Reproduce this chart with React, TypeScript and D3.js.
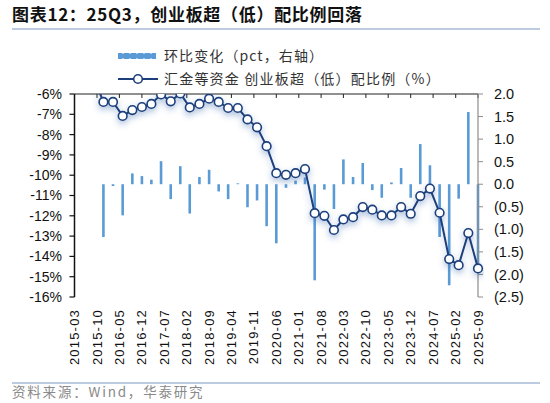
import React from 'react';
import * as d3 from 'd3';

// quarter-end dates of the ratio series (first point sits above the axis and is clipped)
const quarters = [
	'2015-09', '2015-12', '2016-03', '2016-06', '2016-09', '2016-12', '2017-03', '2017-06', '2017-09', '2017-12',
	'2018-03', '2018-06', '2018-09', '2018-12', '2019-03', '2019-06', '2019-09', '2019-12', '2020-03', '2020-06',
	'2020-09', '2020-12', '2021-03', '2021-06', '2021-09', '2021-12', '2022-03', '2022-06', '2022-09', '2022-12',
	'2023-03', '2023-06', '2023-09', '2023-12', '2024-03', '2024-06', '2024-09', '2024-12', '2025-03', '2025-06',
	'2025-09',
];

// 汇金等资金 创业板超（低）配比例 (%)
const ratio = [
	-5.22, -6.39, -6.39, -7.08, -6.79, -6.64, -6.49, -6.02, -6.36, -5.97,
	-6.66, -6.49, -6.23, -6.39, -6.69, -6.69, -7.25, -7.64, -8.57, -9.9,
	-9.98, -9.9, -9.7, -11.87, -12.0, -12.7, -12.18, -12.07, -11.57, -11.7,
	-11.98, -11.98, -11.57, -11.9, -11.03, -10.66, -11.85, -14.13, -14.43, -12.85,
	-14.59,
];

// 环比变化 (pct), from 2015-12 on
const qoqChange = [
	-1.17, -0.04, -0.69, 0.24, 0.18, 0.1, 0.51, -0.33, 0.4, -0.65,
	0.16, 0.32, -0.16, -0.33, 0.02, -0.51, -0.36, -0.93, -1.31, -0.08,
	0.08, 0.15, -2.13, -0.12, -0.55, 0.55, 0.16, 0.47, -0.13, -0.3,
	0.04, 0.36, -0.3, 0.89, 0.42, -1.17, -2.24, -0.32, 1.6, -1.75,
];

const tickLabels = [
	'2015-03', '2015-10', '2016-05', '2016-12', '2017-07', '2018-02', '2018-09', '2019-04', '2019-11', '2020-06',
	'2021-01', '2021-08', '2022-03', '2022-10', '2023-05', '2023-12', '2024-07', '2025-02', '2025-09',
];
const leftTicks = [-6, -7, -8, -9, -10, -11, -12, -13, -14, -15, -16];
const rightTicks = [2, 1.5, 1, 0.5, 0, -0.5, -1, -1.5, -2, -2.5];

const W = 550;
const H = 403;
const plot = { left: 74.5, right: 478, top: 94, bottom: 297 };

const latin = '"Liberation Sans", Arial, sans-serif';
const cjk = '"Noto Sans CJK SC", "Liberation Sans", sans-serif';

const parse = d3.timeParse('%Y-%m');
const x = d3.scaleTime().domain([parse('2015-03')!, parse('2025-09')!]).range([plot.left, plot.right]);
const yL = d3.scaleLinear().domain([-16, -6]).range([plot.bottom, plot.top]);
const yR = d3.scaleLinear().domain([-2.5, 2]).range([plot.bottom, plot.top]);

const qx = (q: string) => x(parse(q)!);
const fmtRight = (v: number) => (v < 0 ? `(${Math.abs(v).toFixed(1)})` : v.toFixed(1));

const linePath = d3
	.line<number>()
	.x((_, i) => qx(quarters[i]))
	.y((d) => yL(d))(ratio)!;

const barQuarters = quarters.slice(1);
const barW = 2.6;
const navy = '#1d3f7c';
const blue = '#5b9bd5';

export default function App() {
	return (
		<div style={{ position: 'fixed', left: 0, top: 0 }}>
			<svg width={W} height={H} viewBox={`0 0 ${W} ${H}`} style={{ display: 'block', background: '#fff' }}>
				<defs>
					<clipPath id="plotClip">
						<rect x={plot.left} y={plot.top} width={plot.right - plot.left + 6} height={plot.bottom - plot.top} />
					</clipPath>
					<filter id="glow" x="-10%" y="-10%" width="120%" height="130%">
						<feDropShadow dx="0" dy="3" stdDeviation="3" floodColor="#2f5fa8" floodOpacity="0.4" />
					</filter>
					<pattern id="dots" width="7" height="7" patternUnits="userSpaceOnUse">
						<rect width="7" height="7" fill={blue} />
						<rect x="3" y="2.5" width="2" height="2" fill="#fff" />
					</pattern>
				</defs>

				{/* title */}
				<text x={12} y={21} fontFamily={cjk} fontWeight={700} fontSize={17} fill="#111" letterSpacing={0.7}>
					图表12：25Q3，创业板超（低）配比例回落
				</text>
				<line x1={12} x2={540} y1={29} y2={29} stroke="#a7bad6" strokeWidth={1.5} />

				{/* legend */}
				<rect x={118} y={53} width={38} height={6} fill="url(#dots)" />
				<text x={164} y={61} fontFamily={cjk} fontSize={14} fill="#333" letterSpacing={1.1}>
					环比变化（pct，右轴）
				</text>
				<line x1={118} x2={158} y1={79} y2={79} stroke={navy} strokeWidth={2} />
				<circle cx={138} cy={79} r={4.3} fill="#fff" stroke={navy} strokeWidth={1.6} />
				<text x={164} y={84} fontFamily={cjk} fontSize={14} fill="#333" letterSpacing={1.2}>
					汇金等资金 创业板超（低）配比例（%）
				</text>

				{/* bars */}
				{qoqChange.map((v, i) => (
					<rect
						key={i}
						x={qx(barQuarters[i]) - barW / 2}
						y={Math.min(yR(v), yR(0))}
						width={barW}
						height={Math.abs(yR(v) - yR(0))}
						fill={blue}
					/>
				))}

				{/* top axis line with ticks */}
				<line x1={plot.left} x2={plot.right} y1={plot.top} y2={plot.top} stroke="#222" strokeWidth={1.2} />
				{tickLabels.map((t) => (
					<line key={t} x1={qx(t)} x2={qx(t)} y1={plot.top} y2={plot.top + 4} stroke="#222" strokeWidth={1} />
				))}

				{/* left axis */}
				<line x1={plot.left} x2={plot.left} y1={plot.top} y2={plot.bottom} stroke="#111" strokeWidth={1.5} />
				{leftTicks.map((t) => (
					<g key={t}>
						<line x1={plot.left - 5} x2={plot.left} y1={yL(t)} y2={yL(t)} stroke="#111" strokeWidth={1.2} />
						<text x={62} y={yL(t)} dy="0.35em" textAnchor="end" fontFamily={latin} fontSize={14} fill="#111">
							{`${t}%`}
						</text>
					</g>
				))}

				{/* right axis */}
				<line x1={plot.right} x2={plot.right} y1={plot.top} y2={plot.bottom} stroke="#8c8c8c" strokeWidth={1.2} />
				{rightTicks.map((t) => (
					<g key={t}>
						<line x1={plot.right} x2={plot.right + 5} y1={yR(t)} y2={yR(t)} stroke="#8c8c8c" strokeWidth={1} />
						<text x={494} y={yR(t)} dy="0.35em" fontFamily={latin} fontSize={14.5} fill="#111">
							{fmtRight(t)}
						</text>
					</g>
				))}

				{/* x labels */}
				{tickLabels.map((t) => (
					<text
						key={t}
						transform={`translate(${qx(t)},309) rotate(-90)`}
						textAnchor="end"
						dominantBaseline="central"
						fontFamily={latin}
						fontSize={13}
						letterSpacing={1.2}
						fill="#111"
					>
						{t}
					</text>
				))}

				{/* ratio line */}
				<g clipPath="url(#plotClip)">
					<g filter="url(#glow)">
						<path d={linePath} fill="none" stroke={navy} strokeWidth={2} />
						{ratio.map((v, i) => (
							<circle key={i} cx={qx(quarters[i])} cy={yL(v)} r={4.3} fill="#fff" stroke={navy} strokeWidth={1.6} />
						))}
					</g>
				</g>

				{/* source */}
				<line x1={12} x2={540} y1={383} y2={383} stroke="#a7bad6" strokeWidth={1.5} />
				<text x={12} y={397} fontFamily={cjk} fontSize={13.5} fill="#8a8a8a" letterSpacing={1.8}>
					资料来源：Wind，华泰研究
				</text>
			</svg>
		</div>
	);
}
